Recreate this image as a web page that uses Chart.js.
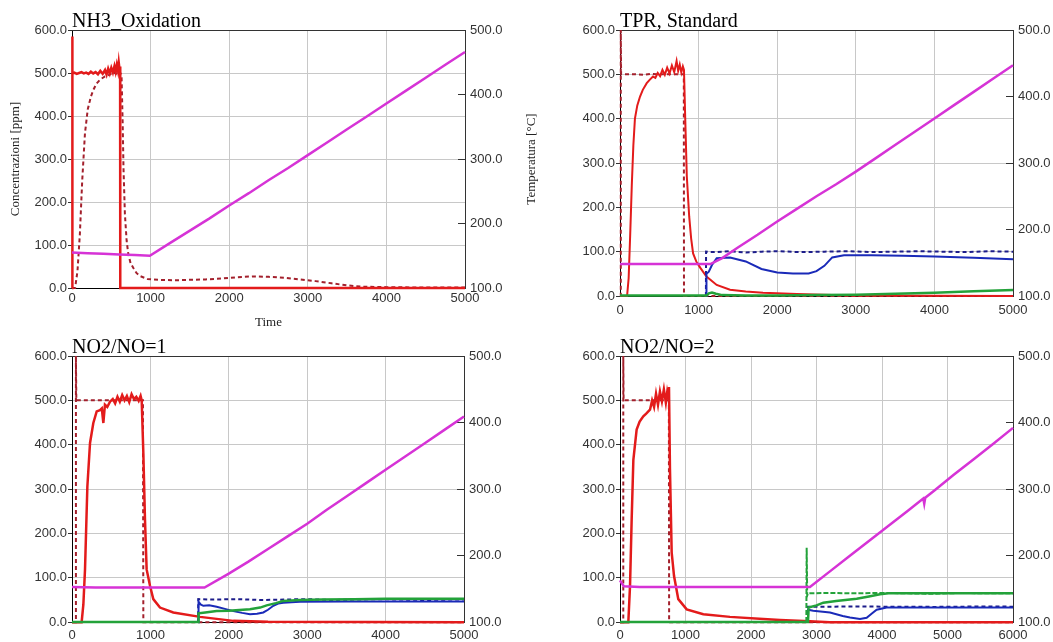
<!DOCTYPE html>
<html>
<head>
<meta charset="utf-8">
<title>NH3 / NOx TPR</title>
<script src="https://cdn.jsdelivr.net/npm/chart.js@4.4.1/dist/chart.umd.min.js"></script>
<style>
  body { margin: 0; background: #fff; }
  #wrap { position: relative; width: 1053px; height: 642px; overflow: hidden; }
  .panel { position: absolute; }
</style>
</head>
<body>
<div id="wrap">
  <div class="panel" style="left:0;top:0"><canvas id="c-ox" width="540" height="330"></canvas></div>
  <div class="panel" style="left:540px;top:0"><canvas id="c-tpr" width="513" height="330"></canvas></div>
  <div class="panel" style="left:0;top:330px"><canvas id="c-r1" width="540" height="312"></canvas></div>
  <div class="panel" style="left:540px;top:330px"><canvas id="c-r2" width="513" height="312"></canvas></div>
</div>
<script>
// ---- NH3_Oxidation ----
const oxInT  = [0, 1, 3, 6, 10, 30, 60, 90, 120, 150, 180, 210, 240, 270, 300, 330, 360, 390, 420, 440, 460, 480, 500, 520, 540, 555, 570, 585, 595, 605, 612, 614, 5000];
const oxInV  = [0, 585, 540, 502, 499, 501, 498, 500, 502, 499, 501, 498, 503, 499, 502, 497, 505, 498, 507, 496, 510, 499, 512, 501, 516, 503, 519, 505, 524, 508, 515, 0, 0];
const oxOutT = [0, 40, 70, 100, 130, 165, 200, 240, 270, 310, 360, 420, 480, 520, 560, 600, 630, 645, 655, 673, 695, 716, 745, 779, 820, 864, 960, 1100, 1300, 1500, 1700, 1900, 2100, 2300, 2500, 2700, 2900, 3100, 3300, 3500, 3700, 4000, 4500, 5000];
const oxOutV = [0, 0, 40, 125, 250, 360, 415, 445, 460, 475, 485, 492, 496, 502, 498, 505, 495, 380, 280, 172, 110, 79, 58, 47, 35, 28, 21, 19, 18, 19, 20, 22, 25, 27, 26, 24, 20, 16, 11, 6, 3, 2, 1, 1];
const oxTempT = [0, 200, 400, 600, 800, 990, 1250, 1500, 1750, 2000, 2250, 2500, 2750, 3000, 3250, 3500, 3750, 4000, 4250, 4500, 4750, 5000];
const oxTempV = [155, 154, 153, 152, 151, 150, 170, 189, 208, 228, 247, 267, 286, 306, 326, 346, 366, 386, 406, 426, 446, 466];

// ---- TPR, Standard ----
const tprInT  = [0, 10, 10, 14, 100, 200, 300, 400, 500, 600, 700, 812, 814, 5000];
const tprInV  = [0, 0, 600, 500, 500, 500, 499, 501, 500, 500, 500, 500, 0, 0];
const tprOutT = [0, 90, 110, 130, 150, 170, 190, 220, 255, 290, 340, 380, 420, 450, 480, 510, 540, 570, 600, 630, 660, 690, 720, 740, 760, 780, 800, 814, 830, 850, 880, 905, 930, 970, 1020, 1100, 1230, 1400, 1600, 1820, 2250, 2700, 3000, 5000];
const tprOutV = [0, 0, 40, 140, 250, 340, 400, 430, 450, 465, 480, 488, 495, 492, 503, 496, 510, 499, 515, 502, 520, 505, 530, 508, 522, 504, 518, 510, 400, 270, 180, 130, 96, 78, 64, 44, 25, 14, 10, 7.5, 4.5, 2, 1, 0];
const tprTempT = [0, 300, 600, 900, 1150, 1300, 1500, 1750, 2000, 2250, 2500, 2750, 3000, 3250, 3500, 3750, 4000, 4250, 4500, 4750, 5000];
const tprTempV = [148, 148, 148, 148, 148, 157, 173, 192, 212, 231, 250, 268, 287, 307, 327, 347, 367, 387, 407, 427, 447];
const tprNoInT  = [1093, 1095, 1200, 1400, 1600, 1800, 2000, 2300, 2600, 2900, 3200, 3500, 3800, 4100, 4400, 4700, 5000];
const tprNoInV  = [0, 100, 99, 101, 98, 100, 101, 99, 100, 101, 99, 100, 101, 100, 99, 101, 100];
const tprNoOutT = [1095, 1100, 1130, 1170, 1230, 1400, 1600, 1800, 2000, 2200, 2400, 2500, 2600, 2700, 2850, 3200, 3600, 4000, 4500, 5000];
const tprNoOutV = [0, 50, 55, 70, 85, 87, 78, 61, 53, 51, 51, 56, 68, 87, 92, 92, 91, 89, 86, 83];
const tprN2T = [0, 1100, 1130, 1170, 1220, 1300, 1600, 2000, 2500, 3000, 3500, 4000, 4500, 5000];
const tprN2V = [1, 1, 6, 8, 5, 2, 1, 1, 2, 3, 5, 7.5, 10.5, 13.5];

// ---- NO2/NO=1 ----
const r1InT  = [0, 50, 50, 55, 300, 600, 905, 910, 5000];
const r1InV  = [0, 0, 600, 500, 500, 500, 500, 0, 0];
const r1OutT = [0, 123, 145, 166, 196, 230, 272, 315, 357, 380, 400, 420, 450, 485, 520, 550, 580, 610, 640, 670, 700, 730, 760, 790, 820, 850, 875, 889, 910, 931, 952, 995, 1037, 1122, 1292, 1633, 2058, 2500, 5000];
const r1OutV = [0, 0, 40, 119, 306, 404, 449, 475, 478, 482, 449, 490, 485, 497, 503, 493, 508, 497, 512, 500, 510, 496, 514, 503, 508, 499, 510, 500, 381, 231, 119, 82, 52, 33, 22, 12, 3, 1, 0];
const r1TempT = [0, 300, 600, 900, 1200, 1500, 1690, 2000, 2250, 2500, 2750, 3000, 3250, 3500, 3750, 4000, 4250, 4500, 4750, 5000];
const r1TempV = [153, 152, 152, 152, 152, 152, 152, 173, 191, 210, 229, 248, 269, 289, 309, 329, 349, 369, 389, 409];
const r1NoInT  = [1608, 1611, 1800, 2100, 2400, 2700, 3000, 3300, 3600, 3900, 4200, 4500, 4800, 5000];
const r1NoInV  = [0, 52, 51, 52, 50, 51, 52, 50, 51, 52, 51, 50, 51, 51];
const r1NoOutT = [1611, 1614, 1640, 1675, 1750, 1845, 1950, 2058, 2170, 2270, 2360, 2440, 2500, 2568, 2630, 2695, 2800, 2908, 3500, 4000, 4500, 5000];
const r1NoOutV = [0, 46, 40, 37, 38, 35, 30, 25, 21, 18, 19, 22, 28, 37, 42, 44, 45, 46, 46.5, 46.5, 46.5, 46.5];
const r1N2T = [0, 1611, 1614, 1700, 1845, 2000, 2270, 2400, 2483, 2600, 2695, 2800, 2908, 3200, 3600, 4000, 4500, 5000];
const r1N2V = [0.5, 0.5, 20, 22, 25, 26, 29, 33, 38, 43, 48, 49, 50, 51, 52, 53, 53, 53];

// ---- NO2/NO=2 ----
const r2InT  = [0, 50, 50, 55, 300, 600, 746, 750, 6000];
const r2InV  = [0, 0, 600, 500, 500, 500, 500, 0, 0];
const r2OutT = [0, 127, 153, 178, 204, 254, 300, 356, 400, 458, 490, 520, 550, 580, 610, 640, 670, 700, 720, 735, 748, 763, 789, 825, 890, 1018, 1272, 1679, 2188, 2443, 2900, 3200, 6000];
const r2OutV = [0, 0, 82, 231, 366, 434, 452, 464, 470, 479, 500, 485, 515, 490, 520, 498, 525, 495, 518, 505, 530, 344, 157, 104, 52, 29, 18, 12, 7, 5, 2, 0, 0];
const r2TempT = [0, 30, 60, 300, 600, 900, 1200, 1500, 1800, 2100, 2400, 2700, 2900, 3200, 3500, 3800, 4100, 4400, 4630, 4645, 4660, 4800, 5100, 5400, 5700, 6000];
const r2TempV = [163, 158, 154, 153, 153, 153, 153, 153, 153, 153, 153, 153, 153, 176, 199, 222, 245, 268, 286, 278, 287, 298, 322, 345, 368, 392];
const r2N2InT = [2845, 2850, 2858, 2870, 3200, 3600, 4000, 4400, 4800, 5200, 5600, 6000];
const r2N2InV = [0.5, 168, 60, 65, 66, 65, 66, 65, 64, 66, 65, 65];
const r2N2OutT = [0, 2870, 2880, 3000, 3104, 3300, 3613, 3800, 3969, 4100, 4500, 5000, 5500, 6000];
const r2N2OutV = [0.5, 0.5, 33, 38, 44, 48, 53, 58, 63, 65, 65, 65, 65, 65];
const r2NoInT  = [2868, 2870, 3200, 3600, 4000, 4400, 4800, 5200, 5600, 6000];
const r2NoInV  = [0, 35, 35, 35.5, 35, 35, 34.5, 35, 35.5, 35];
const r2NoOutT = [2870, 2872, 2950, 3206, 3400, 3511, 3664, 3766, 3850, 3919, 4071, 4500, 5000, 5500, 6000];
const r2NoOutV = [0, 28, 26, 22, 14, 10.5, 7, 10, 20, 28, 33, 33, 33, 33, 33];

const RED = '#e31b1b', DKRED = '#a3202c', MAG = '#d633d6';
const BLUE = '#1a2ab8', NAVY = '#1c1c8a', GREEN = '#23a23a';
const GRID = '#c8c8c8', INK = '#333';

Chart.defaults.font.family = '"Liberation Sans", Arial, sans-serif';
Chart.defaults.color = INK;

function pts(t, v) {
  return t.map((x, i) => ({ x, y: v[i] }));
}

function line(t, v, color, opts = {}) {
  return {
    data: pts(t, v),
    borderColor: color,
    borderWidth: opts.width || 2,
    borderDash: opts.dash || [],
    yAxisID: opts.temp ? 'y2' : 'y',
    pointRadius: 0,
    tension: 0,
    fill: false,
    clip: 4 // let lines lying on 0 show their full width
  };
}

// panel title, top frame line and the right-hand axis title
const panelPlugin = {
  id: 'panel',
  beforeDatasetsDraw(chart) {
    const { ctx, chartArea: a } = chart;
    ctx.save();
    ctx.strokeStyle = INK;
    ctx.lineWidth = 1;
    ctx.beginPath();
    ctx.moveTo(a.left, a.top + 0.5);
    ctx.lineTo(a.right, a.top + 0.5);
    ctx.stroke();
    ctx.restore();
  },
  afterDraw(chart, args, opts) {
    const { ctx, chartArea: a } = chart;
    ctx.save();
    ctx.fillStyle = '#000';
    ctx.font = '20px "Liberation Serif", serif';
    ctx.textAlign = 'left';
    ctx.textBaseline = 'alphabetic';
    ctx.fillText(opts.title, a.left, a.top - 3);
    if (opts.tempTitle) {
      ctx.font = '13px "Liberation Serif", serif';
      ctx.fillStyle = '#222';
      ctx.translate(chart.scales.y2.right - 8, (a.top + a.bottom) / 2);
      ctx.rotate(-Math.PI / 2);
      ctx.textAlign = 'center';
      ctx.textBaseline = 'middle';
      ctx.fillText(opts.tempTitle, 0, 0);
    }
    ctx.restore();
  }
};

function makeChart(id, p) {
  const tickFont = { size: 13 };
  const axisTitleFont = { family: '"Liberation Serif", serif', size: 13 };
  return new Chart(document.getElementById(id), {
    type: 'line',
    data: { datasets: p.sets },
    options: {
      responsive: false,
      animation: false,
      events: [],
      layout: { padding: { top: p.top, left: 0, right: 0, bottom: 0 } },
      plugins: {
        legend: { display: false },
        tooltip: { enabled: false },
        panel: { title: p.title, tempTitle: p.tempTitle }
      },
      scales: {
        x: {
          type: 'linear', min: 0, max: p.xMax,
          grid: { color: GRID, drawTicks: false },
          border: { color: '#000' },
          ticks: { stepSize: 1000, autoSkip: false, maxRotation: 0, padding: p.xPad, font: tickFont,
                   callback: v => String(v) },
          title: { display: !!p.timeTitle, text: p.timeTitle, font: axisTitleFont, color: '#222',
                   padding: { top: 0, bottom: 0 } },
          afterFit: s => { s.height = p.xH; }
        },
        y: {
          position: 'left', min: 0, max: 600,
          grid: { color: GRID, tickColor: INK, tickLength: 4 },
          border: { color: '#000' },
          ticks: { stepSize: 100, padding: 1, font: tickFont, callback: v => v.toFixed(1) },
          title: { display: !!p.yTitle, text: p.yTitle, font: axisTitleFont, color: '#222',
                   padding: { top: 8, bottom: 0 } },
          afterFit: s => { s.width = p.yW; }
        },
        y2: {
          position: 'right', min: 100, max: 500,
          grid: { drawOnChartArea: false, color: INK, tickColor: INK, tickLength: -7 },
          border: { color: INK },
          ticks: { stepSize: 100, padding: 12, font: tickFont, callback: v => v.toFixed(1) },
          afterFit: s => { s.width = p.y2W; }
        }
      }
    },
    plugins: [panelPlugin]
  });
}

makeChart('c-ox', {
  title: 'NH3_Oxidation', xMax: 5000, top: 30, yW: 72, y2W: 75, xH: 42, xPad: 3,
  timeTitle: 'Time', yTitle: 'Concentrazioni [ppm]', tempTitle: 'Temperatura [°C]',
  sets: [
    line(oxTempT, oxTempV, MAG, { width: 2.5, temp: true }),
    line(oxInT, oxInV, RED, { width: 2.5 }),
    line(oxOutT, oxOutV, DKRED, { dash: [4, 3] })
  ]
});

makeChart('c-tpr', {
  title: 'TPR, Standard', xMax: 5000, top: 30, yW: 80, y2W: 40, xH: 34, xPad: 7,
  sets: [
    line(tprTempT, tprTempV, MAG, { width: 2.5, temp: true }),
    line(tprN2T, tprN2V, GREEN, { width: 2.5 }),
    line(tprNoOutT, tprNoOutV, BLUE),
    line(tprNoInT, tprNoInV, NAVY, { dash: [4, 3] }),
    line(tprOutT, tprOutV, RED),
    line(tprInT, tprInV, DKRED, { dash: [4, 3] })
  ]
});

makeChart('c-r1', {
  title: 'NO2/NO=1', xMax: 5000, top: 26, yW: 72, y2W: 76, xH: 19, xPad: 5,
  sets: [
    line(r1TempT, r1TempV, MAG, { width: 2.5, temp: true }),
    line(r1N2T, r1N2V, GREEN, { width: 2.5 }),
    line(r1NoOutT, r1NoOutV, BLUE),
    line(r1NoInT, r1NoInV, NAVY, { dash: [4, 3] }),
    line(r1OutT, r1OutV, RED, { width: 2.5 }),
    line(r1InT, r1InV, DKRED, { dash: [4, 3] })
  ]
});

makeChart('c-r2', {
  title: 'NO2/NO=2', xMax: 6000, top: 26, yW: 80, y2W: 40, xH: 19, xPad: 5,
  sets: [
    line(r2TempT, r2TempV, MAG, { width: 2.5, temp: true }),
    line(r2N2InT, r2N2InV, GREEN, { dash: [5, 2] }),
    line(r2N2OutT, r2N2OutV, GREEN, { width: 2.5 }),
    line(r2NoOutT, r2NoOutV, BLUE),
    line(r2NoInT, r2NoInV, NAVY, { dash: [4, 3] }),
    line(r2OutT, r2OutV, RED, { width: 2.5 }),
    line(r2InT, r2InV, DKRED, { dash: [4, 3] })
  ]
});
</script>
</body>
</html>
